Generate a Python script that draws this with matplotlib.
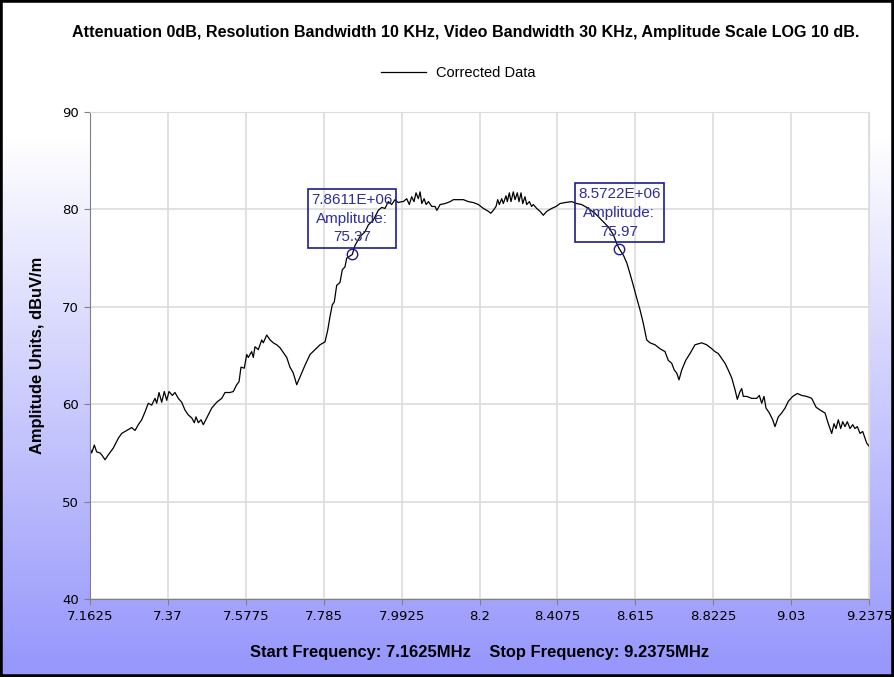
""" Spectrum analyser sweep: corrected data with two amplitude markers """
import numpy as np
import matplotlib.pyplot as plt
from matplotlib.patches import Rectangle

# Sweep data (MHz, dBuV/m)
freq = [
    7.1625, 7.1670, 7.1740, 7.1803, 7.1891, 7.1937, 7.2025, 7.2112, 7.2246, 7.2379,
    7.2469, 7.2603, 7.2736, 7.2824, 7.2912, 7.3002, 7.3090, 7.3178, 7.3269, 7.3356,
    7.3402, 7.3463, 7.3535, 7.3604, 7.3668, 7.3729, 7.3817, 7.3889, 7.3977, 7.4068,
    7.4155, 7.4243, 7.4334, 7.4403, 7.4449, 7.4510, 7.4582, 7.4643, 7.4734, 7.4867,
    7.5000, 7.5133, 7.5221, 7.5354, 7.5442, 7.5533, 7.5594, 7.5647, 7.5735, 7.5799,
    7.5842, 7.5932, 7.5975, 7.6020, 7.6108, 7.6199, 7.6241, 7.6332, 7.6420, 7.6508,
    7.6598, 7.6686, 7.6774, 7.6865, 7.6952, 7.7040, 7.7131, 7.7219, 7.7352, 7.7485,
    7.7618, 7.7752, 7.7885, 7.7957, 7.8018, 7.8079, 7.8132, 7.8196, 7.8284, 7.8345,
    7.8417, 7.8463, 7.8611, 7.8684, 7.8817, 7.8950, 7.9038, 7.9171, 7.9262, 7.9304,
    7.9395, 7.9483, 7.9571, 7.9661, 7.9749, 7.9837, 7.9928, 7.9970, 8.0061, 8.0130,
    8.0194, 8.0255, 8.0309, 8.0370, 8.0418, 8.0463, 8.0524, 8.0578, 8.0639, 8.0729,
    8.0817, 8.0863, 8.0951, 8.1084, 8.1217, 8.1305, 8.1438, 8.1571, 8.1704, 8.1838,
    8.1971, 8.2104, 8.2237, 8.2299, 8.2368, 8.2440, 8.2485, 8.2528, 8.2591, 8.2634,
    8.2706, 8.2741, 8.2794, 8.2839, 8.2900, 8.2946, 8.3007, 8.3052, 8.3106, 8.3151,
    8.3212, 8.3257, 8.3327, 8.3390, 8.3433, 8.3524, 8.3612, 8.3699, 8.3790, 8.3923,
    8.4038, 8.4144, 8.4278, 8.4456, 8.4589, 8.4722, 8.4898, 8.5077, 8.5255, 8.5431,
    8.5564, 8.5655, 8.5722, 8.5833, 8.5924, 8.6009, 8.6097, 8.6187, 8.6275, 8.6363,
    8.6454, 8.6542, 8.6675, 8.6808, 8.6941, 8.7029, 8.7120, 8.7189, 8.7253, 8.7314,
    8.7386, 8.7493, 8.7607, 8.7740, 8.7919, 8.8052, 8.8185, 8.8273, 8.8361, 8.8452,
    8.8540, 8.8627, 8.8718, 8.8806, 8.8867, 8.8939, 8.8984, 8.9027, 8.9118, 8.9251,
    8.9384, 8.9453, 8.9517, 8.9578, 8.9632, 8.9720, 8.9810, 8.9871, 8.9959, 9.0050,
    9.0138, 9.0226, 9.0343, 9.0465, 9.0583, 9.0716, 9.0849, 9.0964, 9.1070, 9.1203,
    9.1291, 9.1382, 9.1443, 9.1496, 9.1557, 9.1621, 9.1675, 9.1736, 9.1797, 9.1869,
    9.1941, 9.2002, 9.2064, 9.2136, 9.2207, 9.2269, 9.2314, 9.2375]
amp = [
    55.5, 55.0, 55.8, 55.1, 55.0, 54.8, 54.3, 54.8, 55.5, 56.5,
    57.0, 57.3, 57.6, 57.3, 57.9, 58.4, 59.2, 60.1, 59.9, 60.6,
    60.1, 61.2, 60.2, 61.3, 60.4, 61.3, 60.9, 61.2, 60.6, 60.2,
    59.4, 58.9, 58.6, 58.1, 58.7, 58.1, 58.4, 57.9, 58.6, 59.6,
    60.2, 60.6, 61.2, 61.2, 61.3, 62.0, 62.3, 63.8, 63.7, 65.1,
    64.8, 65.4, 64.8, 65.9, 65.6, 66.6, 66.3, 67.1, 66.6, 66.3,
    66.1, 65.8, 65.3, 64.8, 63.8, 63.2, 62.0, 62.8, 64.0, 65.1,
    65.6, 66.1, 66.4, 67.6, 69.0, 70.2, 70.5, 72.2, 72.5, 73.8,
    74.1, 75.0, 75.37, 76.3, 77.2, 77.7, 78.4, 78.9, 79.6, 79.9,
    80.2, 80.1, 80.8, 80.5, 81.0, 80.7, 80.8, 80.8, 81.1, 80.5,
    81.3, 80.8, 81.7, 81.1, 81.8, 80.6, 81.1, 80.5, 80.8, 80.3,
    80.3, 79.9, 80.5, 80.6, 80.8, 81.0, 81.0, 81.0, 80.8, 80.7,
    80.5, 80.1, 79.8, 79.6, 79.9, 80.3, 81.0, 80.5, 81.1, 80.6,
    81.4, 80.8, 81.7, 80.8, 81.8, 81.0, 81.7, 80.8, 81.7, 80.6,
    81.3, 80.5, 80.8, 80.3, 80.5, 80.1, 79.8, 79.4, 79.8, 80.1,
    80.3, 80.6, 80.7, 80.8, 80.6, 80.5, 80.1, 79.6, 78.9, 78.2,
    77.4, 76.5, 75.97, 75.3, 74.5, 73.4, 72.2, 70.9, 69.7, 68.3,
    66.6, 66.3, 66.1, 65.7, 65.4, 64.5, 64.2, 63.5, 63.2, 62.5,
    63.5, 64.5, 65.2, 66.1, 66.3, 66.1, 65.7, 65.4, 65.2, 64.7,
    64.2, 63.5, 62.7, 61.5, 60.5, 61.3, 61.6, 60.8, 60.8, 60.6,
    60.6, 60.9, 60.1, 60.8, 59.6, 59.1, 58.4, 57.7, 58.7, 59.1,
    59.6, 60.3, 60.8, 61.1, 60.9, 60.8, 60.6, 59.7, 59.4, 59.1,
    58.0, 57.0, 58.0, 57.5, 58.4, 57.5, 58.2, 57.7, 58.2, 57.5,
    57.9, 57.5, 57.7, 57.0, 57.2, 56.5, 56.0, 55.7]

# Axis ticks
x_ticks = [7.1625, 7.37, 7.5775, 7.785, 7.9925, 8.2, 8.4075, 8.615, 8.8225, 9.03, 9.2375]
x_tick_labels = ['7.1625', '7.37', '7.5775', '7.785', '7.9925', '8.2',
                 '8.4075', '8.615', '8.8225', '9.03', '9.2375']
y_ticks = [40, 50, 60, 70, 80, 90]

# Markers
marker_freq = [7.8611, 8.5722]
marker_amp = [75.37, 75.97]
marker_labels = ['7.8611E+06\nAmplitude:\n75.37', '8.5722E+06\nAmplitude:\n75.97']

title = 'Attenuation 0dB, Resolution Bandwidth 10 KHz, Video Bandwidth 30 KHz, Amplitude Scale LOG 10 dB.'
legend_label = 'Corrected Data'
y_label = 'Amplitude Units, dBuV/m'
footer = 'Start Frequency: 7.1625MHz    Stop Frequency: 9.2375MHz'

W, H = 894, 677
fig = plt.figure(figsize=(W / 100, H / 100), dpi=100)

# Background: white at top fading into lavender
bg = fig.add_axes([0, 0, 1, 1], zorder=-10)
rows = np.arange(H)
t = np.clip((rows - 135) / (H - 150), 0, 1)
top_col = np.array([1.0, 1.0, 1.0])
bot_col = np.array([152, 152, 252]) / 255
grad = top_col[None, :] * (1 - t[:, None]) + bot_col[None, :] * t[:, None]
bg.imshow(grad[:, None, :], aspect='auto', extent=[0, 1, 0, 1], origin='upper')
bg.axis('off')

# Plot area
ax = fig.add_axes([90 / W, 78 / H, 779 / W, 487 / H])
ax.set_facecolor('white')
line, = ax.plot(freq, amp, color='black', lw=0.9)
ax.set_xlim(7.1625, 9.2375)
ax.set_ylim(40, 90)
ax.set_xticks(x_ticks)
ax.set_xticklabels(x_tick_labels)
ax.set_yticks(y_ticks)
ax.grid(True, color='#dcdcdc', lw=1.2)
ax.set_axisbelow(True)
for side in ['left', 'bottom']:
    ax.spines[side].set_color('#808080')
for side in ['top', 'right']:
    ax.spines[side].set_color('#dcdcdc')
ax.tick_params(length=4, width=0.8, color='#808080', pad=4,
               labelsize=9.5, labelcolor='black')

# Markers with their boxes
ax.plot(marker_freq, marker_amp, 'o', ms=7.5, mfc='none', mec='#1c1c8c', mew=1.0)
for fx, fy, txt in zip(marker_freq, marker_amp, marker_labels):
    ax.annotate(txt, (fx, fy), xytext=(0, 10), textcoords='offset pixels',
                ha='center', va='bottom', multialignment='center', linespacing=1.45,
                fontsize=11, family='Liberation Sans', color='#2e2e9c',
                bbox=dict(boxstyle='square,pad=0.22', fc='none', ec='#1c1c8c', lw=1.2))

# Title, legend, labels
fig.text(466 / W, 1 - 32 / H, title, ha='center', va='center',
         fontsize=11.6, fontweight='bold', family='Liberation Sans')
fig.legend(handles=[line], labels=[legend_label], loc='center',
           bbox_to_anchor=(458 / W, 1 - 73 / H), frameon=False,
           handlelength=3.1, handletextpad=0.7,
           prop={'family': 'Liberation Sans', 'size': 10.5})
fig.text(38 / W, 1 - 355 / H, y_label, rotation=90, ha='center', va='center',
         fontsize=11.9, fontweight='bold', family='Liberation Sans')
fig.text(480 / W, 1 - 652 / H, footer, ha='center', va='center',
         fontsize=11.9, fontweight='bold', family='Liberation Sans')

# Outer frame
fig.patches.append(Rectangle((0, 0), 1, 1, transform=fig.transFigure,
                             fill=False, ec='black', lw=4))

fig.savefig('out.png', dpi=100)
